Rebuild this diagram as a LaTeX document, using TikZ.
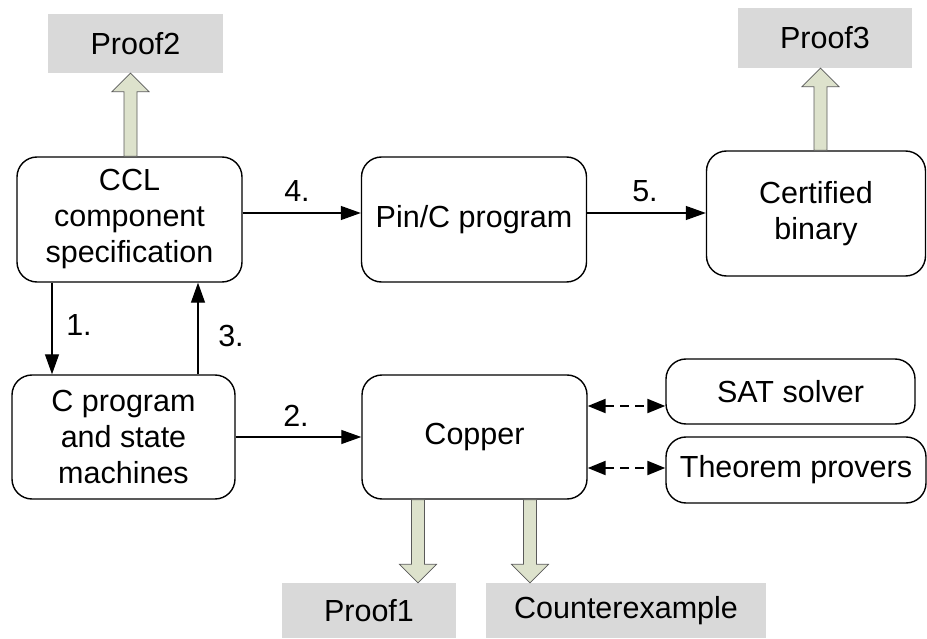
\documentclass[tikz,border=0pt]{standalone}
\usepackage{fontspec}
\setmainfont{Liberation Sans}
\usetikzlibrary{arrows.meta,calc}
\definecolor{proofgray}{RGB}{217,217,217}
\definecolor{fatfill}{RGB}{221,226,204}
\newcommand\fatarrow[3]{%
  \filldraw[fatstyle] ($(#1)+(-6.5,0)$) -- ($(#2)+(-6.5,#3)$) -- ($(#2)+(-18.5,#3)$) -- (#2)
    -- ($(#2)+(18.5,#3)$) -- ($(#2)+(6.5,#3)$) -- ($(#1)+(6.5,0)$) -- cycle;}
\tikzset{
  box/.style={draw, line width=1.4pt, rounded corners=20pt, inner sep=0pt, align=center,
    font=\fontsize{30.5}{36}\selectfont},
  proofbox/.style={fill=proofgray, inner sep=0pt, align=center, font=\fontsize{30.5}{36}\selectfont},
  lbl/.style={inner sep=0pt, font=\fontsize{30.5}{36}\selectfont},
  arr/.style={line width=1.3pt, -{Triangle[length=20pt,width=14pt]}},
  dasharr/.style={line width=2.2pt, dash pattern=on 9pt off 6pt,
    {Triangle[length=18pt,width=14pt]}-{Triangle[length=18pt,width=14pt]}},
  fatstyle/.style={fill=fatfill, draw=black!65, line width=0.7pt},
}
\begin{document}
\begin{tikzpicture}[x=1pt,y=-1pt]
\useasboundingbox (0,0) rectangle (927,639);
% main boxes
\node[box, minimum width=225pt, minimum height=125pt] (ccl) at (129.5,219.5) {CCL\\component\\specification};
\node[box, minimum width=225pt, minimum height=125pt] (pinc) at (474,219.5) {Pin/C program};
\node[box, minimum width=219pt, minimum height=125pt] (cert) at (816,213.5) {Certified\\binary};
\node[box, minimum width=223pt, minimum height=124pt] (cprog) at (123.5,437) {C program\\and state\\machines};
\node[box, minimum width=225pt, minimum height=124pt] (copper) at (474.5,437) {Copper};
\node[box, minimum width=249pt, minimum height=65pt] (sat) at (790.5,391.5) {SAT solver};
\node[box, minimum width=260pt, minimum height=66pt] (thm) at (796,470) {Theorem provers};
% proof boxes
\node[proofbox, minimum width=175pt, minimum height=59pt] (proof2) at (135.5,43.5) {Proof2};
\node[proofbox, minimum width=174pt, minimum height=60pt] (proof3) at (825,38) {Proof3};
\node[proofbox, minimum width=174pt, minimum height=55pt] (proof1) at (369,610.5) {Proof1};
\node[proofbox, minimum width=280pt, minimum height=55pt] (counter) at (626,610.5) {Counterexample};
% helper coordinates
\coordinate (x1) at (52,0);
\coordinate (x3) at (198,0);
\coordinate (xp2) at (130.5,0);
\coordinate (xp3) at (820.5,0);
\coordinate (xp1) at (418,0);
\coordinate (xce) at (530,0);
% connectors
\draw[arr] ([yshift=6.5pt]ccl.east) -- ([yshift=6.5pt]ccl.east -| pinc.west);
\draw[arr] ([yshift=6.5pt]pinc.east) -- ([yshift=6.5pt]pinc.east -| cert.west);
\draw[arr] (cprog) -- (copper);
\draw[arr] (ccl.south -| x1) -- (cprog.north -| x1);
\draw[arr] (cprog.north -| x3) -- (ccl.south -| x3);
\draw[dasharr] ([yshift=-14.5pt]sat.west -| copper.east) -- ([yshift=-14.5pt]sat.west);
\draw[dasharr] ([yshift=2pt]thm.west -| copper.east) -- ([yshift=2pt]thm.west);
% labels
\node[lbl] (l4) at (297,191) {4.};
\node[lbl] (l5) at (645,191) {5.};
\node[lbl] (l1) at (79,325) {1.};
\node[lbl] (l3) at (231,336) {3.};
\node[lbl] (l2) at (296,416) {2.};
% fat arrows
\coordinate (a2s) at (ccl.north -| xp2);
\coordinate (a2t) at (proof2.south -| xp2);
\coordinate (a3s) at (cert.north -| xp3);
\coordinate (a3t) at (proof3.south -| xp3);
\coordinate (a1s) at (copper.south -| xp1);
\coordinate (a1t) at (proof1.north -| xp1);
\coordinate (acs) at (copper.south -| xce);
\coordinate (act) at (counter.north -| xce);
\fatarrow{a2s}{a2t}{18.5}
\fatarrow{a3s}{a3t}{18.5}
\fatarrow{a1s}{a1t}{-18.5}
\fatarrow{acs}{act}{-18.5}
\end{tikzpicture}
\end{document}
